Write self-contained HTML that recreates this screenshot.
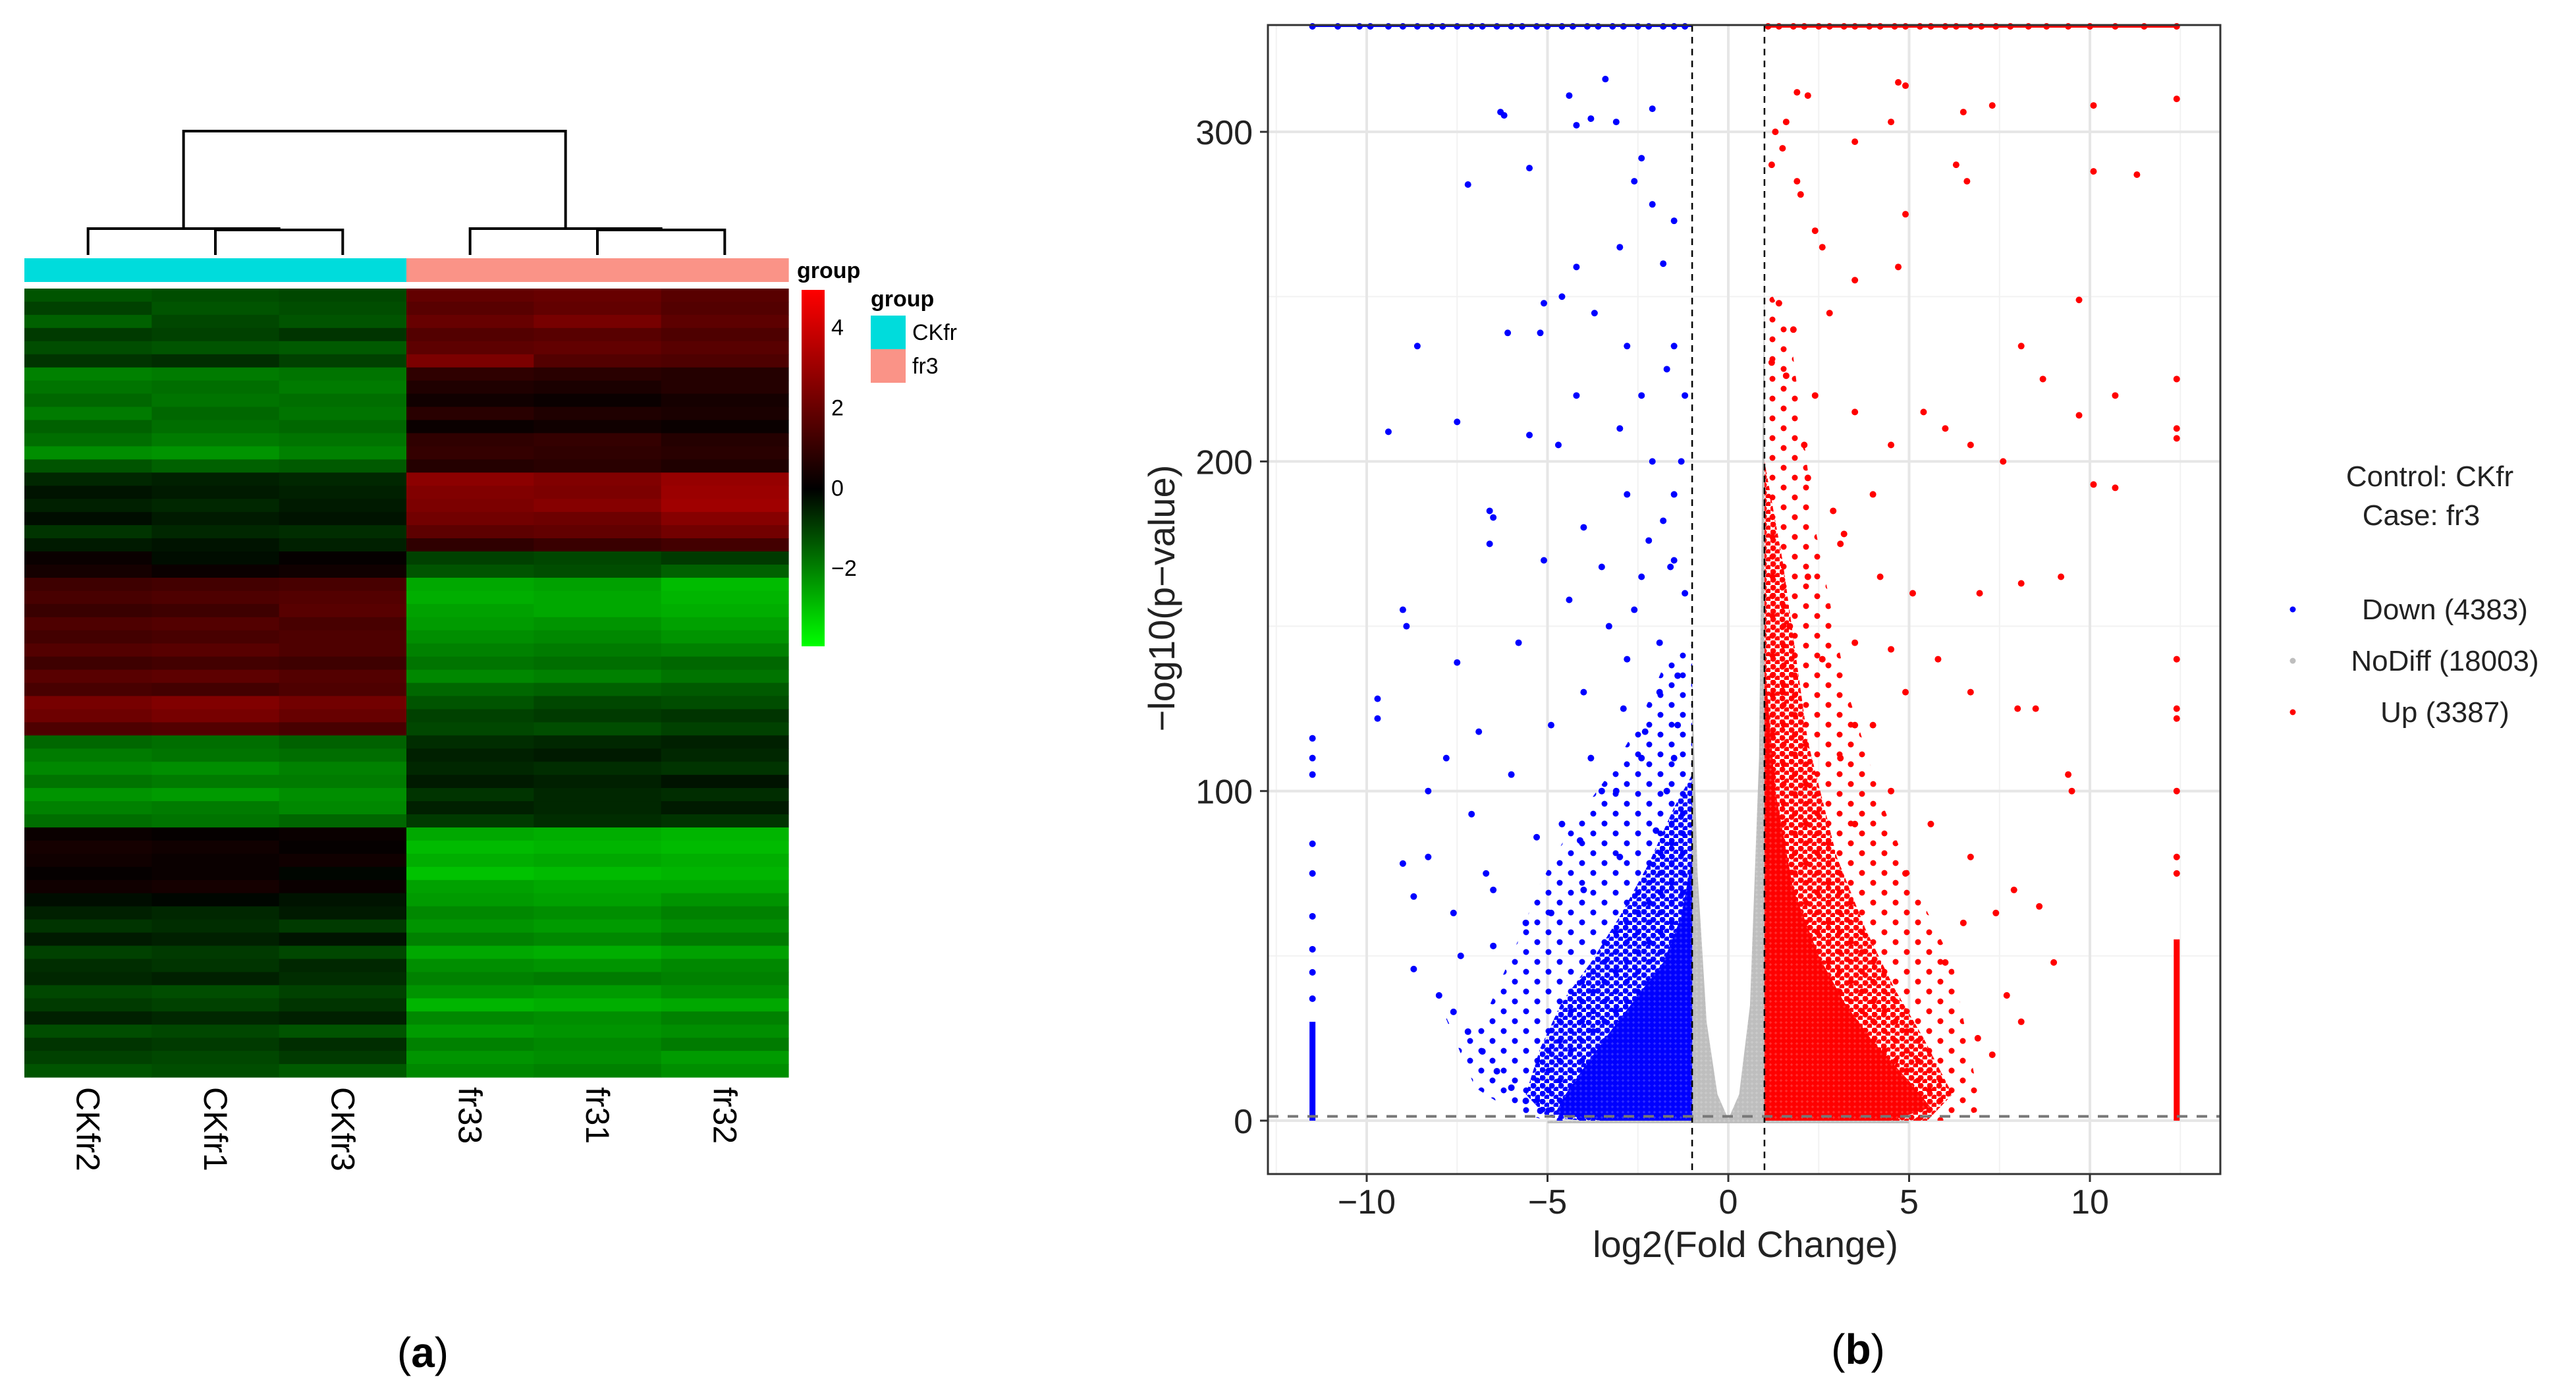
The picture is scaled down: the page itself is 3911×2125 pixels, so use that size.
<!DOCTYPE html>
<html><head><meta charset="utf-8"><style>
html,body{margin:0;padding:0;background:#fff;}
svg{display:block;}
text{font-family:"Liberation Sans",sans-serif;}
</style></head><body>
<svg id="fig" width="3911" height="2125" viewBox="0 0 3911 2125" xmlns="http://www.w3.org/2000/svg">
<defs>
<linearGradient id="cbar" x1="0" y1="0" x2="0" y2="1">
<stop offset="0" stop-color="#ff0000"/><stop offset="0.558" stop-color="#000000"/><stop offset="1" stop-color="#00ff00"/>
</linearGradient>
<pattern id="pBlueCore" width="8" height="8" patternUnits="userSpaceOnUse"><rect width="8" height="8" fill="#3030ff"/><circle cx="4" cy="4" r="4.2" fill="#0000ff"/></pattern>
<pattern id="pBlueMid" width="14" height="12" patternUnits="userSpaceOnUse"><circle cx="4" cy="4" r="4.5" fill="#0000ff"/><circle cx="11" cy="10" r="4.5" fill="#0000ff"/></pattern>
<pattern id="pBlueHalo" width="34" height="30" patternUnits="userSpaceOnUse"><circle cx="5" cy="5" r="4.5" fill="#0000ff"/><circle cx="22" cy="20" r="4.5" fill="#0000ff"/></pattern>
<pattern id="pRedCore" width="8" height="8" patternUnits="userSpaceOnUse"><rect width="8" height="8" fill="#ff3030"/><circle cx="4" cy="4" r="4.2" fill="#ff0000"/></pattern>
<pattern id="pRedMid" width="14" height="12" patternUnits="userSpaceOnUse"><circle cx="4" cy="4" r="4.5" fill="#ff0000"/><circle cx="11" cy="10" r="4.5" fill="#ff0000"/></pattern>
<pattern id="pRedHalo" width="34" height="30" patternUnits="userSpaceOnUse"><circle cx="5" cy="5" r="4.5" fill="#ff0000"/><circle cx="22" cy="20" r="4.5" fill="#ff0000"/></pattern>
<pattern id="pGray" width="7" height="7" patternUnits="userSpaceOnUse"><rect width="7" height="7" fill="#cacaca"/><circle cx="3.5" cy="3.5" r="3.5" fill="#bebebe"/></pattern>
</defs>
<g id="heat"></g>
<g id="volc"></g>
<text x="642" y="2075" font-family="Liberation Serif" font-size="64" text-anchor="middle">(<tspan font-weight="bold">a</tspan>)</text>
<text x="2821" y="2070" font-family="Liberation Serif" font-size="64" text-anchor="middle">(<tspan font-weight="bold">b</tspan>)</text>
</svg>
<script>
// ---------- heatmap data ----------
const samples = ["CKfr2","CKfr1","CKfr3","fr33","fr31","fr32"];
const groups = ["CKfr","CKfr","CKfr","fr3","fr3","fr3"];
const heatRows = [
[-1.3,-1.2,-1.1,1.9,2.0,1.7],[-1.0,-1.3,-1.2,1.7,1.9,1.6],[-1.5,-1.1,-1.3,2.0,2.3,1.8],[-0.9,-1.0,-0.8,1.6,1.7,1.5],
[-1.2,-1.3,-1.4,1.8,1.9,1.7],[-0.8,-0.7,-1.0,2.4,1.6,1.5],[-2.0,-1.9,-1.8,0.9,0.8,0.7],[-1.8,-1.7,-1.9,0.6,0.5,0.7],
[-1.6,-1.8,-1.7,0.3,0.2,0.4],[-1.9,-1.6,-1.8,0.8,0.6,0.5],[-1.5,-1.7,-1.6,0.2,0.3,0.2],[-1.7,-1.9,-1.8,0.9,1.0,0.7],
[-2.2,-2.3,-2.0,1.0,0.9,0.8],[-1.3,-1.5,-1.4,0.7,0.8,0.6],[-0.6,-0.5,-0.6,2.7,2.5,2.9],[-0.3,-0.4,-0.5,2.5,2.4,3.0],
[-0.5,-0.6,-0.4,2.4,2.6,3.1],[-0.2,-0.4,-0.3,2.2,2.1,2.6],[-0.8,-0.6,-0.7,1.8,1.9,2.2],[-0.4,-0.3,-0.5,0.9,1.1,1.3],
[0.2,-0.2,0.1,-1.0,-1.1,-0.9],[0.4,0.2,0.3,-1.3,-1.2,-1.5],[1.2,1.3,1.4,-2.6,-2.5,-2.9],[1.4,1.5,1.6,-2.7,-2.6,-2.8],
[1.1,1.2,1.7,-2.5,-2.6,-2.7],[1.5,1.6,1.4,-2.4,-2.3,-2.5],[1.3,1.4,1.5,-2.2,-2.1,-2.3],[1.6,1.7,1.5,-2.0,-1.9,-2.0],
[1.2,1.3,1.2,-1.8,-1.7,-1.6],[1.7,1.8,1.6,-2.1,-2.0,-1.8],[1.4,1.3,1.5,-1.6,-1.5,-1.4],[2.3,2.5,2.2,-1.3,-1.1,-1.2],
[2.1,2.3,2.0,-1.0,-0.9,-0.8],[1.5,1.6,1.4,-1.1,-1.2,-1.0],[-1.6,-1.7,-1.5,-0.7,-0.6,-0.5],[-1.9,-1.8,-1.7,-0.5,-0.4,-0.6],
[-2.1,-2.2,-2.0,-0.6,-0.7,-0.8],[-1.8,-1.9,-1.9,-0.4,-0.5,-0.3],[-2.3,-2.4,-2.2,-0.8,-0.6,-0.7],[-2.0,-1.9,-2.1,-0.5,-0.6,-0.4],
[-1.7,-1.8,-1.6,-0.9,-0.7,-0.8],[0.2,0.1,0.2,-2.6,-2.7,-2.8],[0.4,0.3,0.1,-2.9,-2.8,-2.9],[0.3,0.2,0.3,-2.7,-2.6,-2.7],
[0.1,0.2,-0.1,-3.0,-2.9,-2.8],[0.3,0.4,0.2,-2.5,-2.6,-2.6],[-0.2,-0.1,-0.3,-2.4,-2.5,-2.3],[-0.5,-0.6,-0.4,-2.1,-2.2,-2.0],
[-0.8,-0.7,-0.9,-2.3,-2.4,-2.2],[-0.4,-0.5,-0.3,-2.0,-2.1,-1.9],[-1.0,-0.9,-1.1,-2.6,-2.7,-2.5],[-0.7,-0.8,-0.6,-2.2,-2.3,-2.1],
[-0.6,-0.5,-0.7,-2.0,-1.9,-2.0],[-1.1,-1.2,-1.0,-2.3,-2.4,-2.2],[-0.9,-1.0,-0.8,-2.8,-2.7,-2.6],[-0.5,-0.6,-0.5,-2.1,-2.2,-2.0],
[-1.2,-1.1,-1.3,-2.4,-2.3,-2.2],[-0.8,-0.9,-0.7,-2.0,-2.1,-1.9],[-1.0,-1.1,-0.9,-2.3,-2.2,-2.4],[-1.3,-1.2,-1.4,-2.1,-2.0,-2.2]
];
const cbarTicks = [4,2,0,-2];
const groupNames = ["CKfr","fr3"];
const groupColors = {"CKfr":"#00dcdc","fr3":"#fa9387"};

// ---------- volcano data ----------
const xTicks = [-10,-5,0,5,10];
const yTicks = [0,100,200,300];
const xMinor = [-12.5,-7.5,-2.5,2.5,7.5,12.5];
const yMinor = [50,150,250];
const fcCut = [-1,1];
const pCut = 1.3;
const downX = [-6.3,-6.2,-3.4,-4.4,-5.5,-7.2,-8.6,-9.4,-6.1,-7.5,-9.7,-9.7,-9,-8.9,-7.5,-6.6,-6.5,-5.2,-5.1,-4.2,-3.8,-3.1,-2.1,-2.4,-2.6,-2.1,-1.5,-1.8,-3,-4.2,-4.6,-3.7,-2.8,-1.7,-1.2,-1.5,-2.4,-3,-4.2,-4.7,-5.5,-6.6,-2.1,-1.5,-2.8,-4,-3.5,-2.4,-1.5,-5.1,-4.4,-5.8,-6.9,-7.8,-8.3,-7.1,-6,-4.9,-4,-2.8,-1.9,-8.3,-9,-8.7,-7.6,-6.5,-5.3,-4.6,-3.5,-2.4,-1.4,-7.4,-6.5,-8.7,-6.7,-5.6,-4.9,-4,-3,-2,-1.7,-1.5,-8.0,-7.6,-7.2,-6.8,-6.4,-6.0,-5.6,-5.2,-1.3,-1.8,-2.2,-1.2,-3.3,-2.6,-1.9,-1.4,-2.9,-3.8,-2.3,-1.6,-3.1,-4.1];
const downY = [306,305,316,311,289,284,235,209,239,212,128,122,155,150,139,185,183,239,248,302,304,303,307,292,285,278,273,260,265,259,250,245,235,228,220,235,220,210,220,205,208,175,200,190,190,180,168,165,170,170,158,145,118,110,100,93,105,120,130,140,145,80,78,68,63,70,86,90,100,110,120,50,53,46,75,60,63,70,80,88,100,110,38,33,27,21,15,10,6,3,200,182,176,160,150,155,130,135,125,110,118,168,100,85];
const upX = [1.6,2.2,1.9,3.5,4.7,4.9,4.5,6.5,7.3,10.1,12.4,6.3,6.6,10.1,11.3,4.9,1.9,1.2,2.6,3.5,4.7,9.7,8.1,8.7,10.7,9.7,12.4,12.4,12.4,10.1,10.7,7.6,6.7,6,5.4,4.5,4,3.5,2.4,2.2,3.1,4.2,5.1,6.95,8.1,9.2,5.8,6.7,8,8.5,9.4,9.5,12.4,12.4,12.4,12.4,12.4,12.4,4.9,4,3.1,4.5,5.6,6.7,7.9,7.4,6.5,8.6,9,6,4.9,3.5,2.6,2.2,1.5,1.7,3.5,4.5,3.5,7.7,8.1,6.9,7.3,1.3,1.5,2.0,2.4,1.4,1.8,2.8,1.2,1.6,2.1,2.9,3.2];
const upY = [303,311,312,297,315,314,303,306,308,308,310,290,285,288,287,275,285,290,265,255,259,249,235,225,220,214,225,210,207,193,192,200,205,210,215,205,190,215,220,195,175,165,160,160,163,165,140,130,125,125,105,100,140,125,122,100,80,75,130,120,110,100,90,80,70,63,60,65,48,48,75,90,140,165,130,150,145,143,120,38,30,25,20,300,295,281,270,248,240,245,230,226,205,185,178];
// dense cloud outlines (log2FC, -log10 p)
const blueCoreX = [-1,-1,-1.3,-1.8,-2.5,-3.2,-4,-4.5,-4.8,-3.5];
const blueCoreY = [0,80,62,48,38,28,16,8,2,0];
const blueMidX = [-1,-1,-1.5,-2.2,-3,-3.8,-4.6,-5.2,-5.6,-5,-4];
const blueMidY = [0,105,95,78,62,48,36,22,8,1,0];
const blueHaloX = [-1,-1,-1.7,-2.5,-3.3,-4.3,-5.2,-5.8,-6.6,-7.4,-8.0,-7.0,-6.0,-5.0];
const blueHaloY = [0,145,140,120,105,90,72,55,35,22,36,10,3,0];
const redCoreX = [1,1,1.3,1.8,2.5,3.2,4,5,5.6,4.5];
const redCoreY = [0,140,100,70,50,36,24,12,4,0];
const redMidX = [1,1,1.5,2.2,3,3.8,4.6,5.4,6.2,5.5];
const redMidY = [0,200,170,115,80,58,40,25,8,0];
const redHaloX = [1,1,1.7,2.4,3.3,4.3,5.2,6.2,6.6,7,6];
const redHaloY = [0,255,240,180,130,95,70,48,25,3,0];
const grayX = [-1,-1,-0.85,-0.6,-0.3,0,0.3,0.6,0.85,1,1,5,5,-5,-5];
const grayY = [0,135,75,30,8,0.5,8,35,110,260,0,0,-0.8,-0.8,0];
const colDownX = -11.5, colDownTop = 30, colDownSparse = [37,45,52,62,75,84,105,110,116];
const colUpX = 12.4, colUpTop = 55;
const topDownX = [-11.5,-10.8,-10.2,-9.9,-9.4,-9.0,-8.6,-8.2,-7.9,-7.5,-7.1,-6.8,-6.4,-6.0,-5.7,-5.3,-5.0,-4.6,-4.3,-3.9,-3.6,-3.2,-2.9,-2.5,-2.2,-1.8,-1.5,-1.2];
const topUpX = [1.1,1.4,1.8,2.1,2.5,2.8,3.2,3.5,3.9,4.2,4.6,4.9,5.3,5.6,6.0,6.3,6.7,7.0,7.4,7.8,8.3,8.8,9.4,10.0,10.7,11.5,12.4];
const topY = 332;
const legendLabels = ["Down (4383)","NoDiff (18003)","Up (3387)"];
const legendColors = ["#0000ff","#bebebe","#ff0000"];

const NS = "http://www.w3.org/2000/svg";
function mk(tag, attrs, parent){ const e=document.createElementNS(NS,tag); for(const k in attrs) e.setAttribute(k,attrs[k]); parent.appendChild(e); return e; }

// ---------- heatmap ----------
const heat = document.getElementById('heat');
const hx0=37, hx1=1197, hy0=438, hy1=1635;
const colW=(hx1-hx0)/samples.length, rowH=(hy1-hy0)/heatRows.length;
const vMin=-3.95, vMax=4.93;
function heatColor(v){ if(v>=0){const r=Math.round(255*Math.min(1,v/vMax)); return `rgb(${r},0,0)`;} const g=Math.round(255*Math.min(1,v/vMin)); return `rgb(0,${g},0)`; }
const cellG = mk('g',{},heat);


heatRows.forEach((row,ri)=>{ row.forEach((v,ci)=>{
  const c=mk('rect',{x:hx0+ci*colW,y:hy0+ri*rowH,width:colW+0.6,height:rowH+0.6,fill:heatColor(v)},cellG);
  
  
});});
samples.forEach((s,i)=>{
  const r=mk('rect',{x:hx0+i*colW,y:392,width:colW+0.6,height:36,fill:groupColors[groups[i]]},heat);
  
  
  const cx=hx0+(i+0.5)*colW;
  const t=mk('text',{x:0,y:0,'font-size':50,transform:`translate(${cx-17},1650) rotate(90)`},heat);
  t.textContent=s;
  
  
});
const cc=i=>hx0+(i+0.5)*colW;
const dg=mk('g',{stroke:'#000','stroke-width':4,fill:'none'},heat);


function clusterPaths(a,b,c){
  const m=(cc(b)+cc(c))/2, top=(cc(a)+m)/2;
  mk('path',{d:`M${cc(b)},387V349H${cc(c)}V387`},dg);
  mk('path',{d:`M${cc(a)},387V347H${m}V349`},dg);
  return top;
}
const tL=clusterPaths(0,1,2), tR=clusterPaths(3,4,5);
mk('path',{d:`M${tL},347V199H${tR}V347`},dg);
const cb=mk('rect',{x:1217,y:440,width:35,height:541,fill:'url(#cbar)'},heat);


const cbY=v=>440+(vMax-v)/(vMax-vMin)*541;
cbarTicks.forEach(v=>{
  const t=mk('text',{x:1262,y:cbY(v)+12,'font-size':34},heat);
  t.textContent=v<0?'\u2212'+Math.abs(v):String(v);
  
  
});
let t=mk('text',{x:1210,y:422,'font-size':34,'font-weight':'bold'},heat);
t.textContent='group';


t=mk('text',{x:1322,y:465,'font-size':34,'font-weight':'bold'},heat);
t.textContent='group';


groupNames.forEach((g,i)=>{
  const r=mk('rect',{x:1322,y:479+i*51,width:53,height:51,fill:groupColors[g]},heat);
  
  
  const tt=mk('text',{x:1385,y:516+i*51,'font-size':34},heat);
  tt.textContent=g;
  
  
});

// ---------- volcano ----------
const vg=document.getElementById('volc');
const px0=1925, px1=3371, py0=38, py1=1782;
const X=v=>2624+v*54.9, Y=v=>1701-v*5.003;
const clipR=mk('clipPath',{id:'pclip'},vg); mk('rect',{x:px0,y:py0-6,width:px1-px0,height:py1-py0+6},clipR);
const plot=mk('g',{'clip-path':'url(#pclip)'},vg);
xMinor.forEach(v=>mk('line',{x1:X(v),x2:X(v),y1:py0,y2:py1,stroke:'#f2f2f2','stroke-width':2},plot));
yMinor.forEach(v=>mk('line',{x1:px0,x2:px1,y1:Y(v),y2:Y(v),stroke:'#f2f2f2','stroke-width':2},plot));
xTicks.forEach(v=>mk('line',{x1:X(v),x2:X(v),y1:py0,y2:py1,stroke:'#e6e6e6','stroke-width':4},plot));
yTicks.forEach(v=>mk('line',{x1:px0,x2:px1,y1:Y(v),y2:Y(v),stroke:'#e6e6e6','stroke-width':4},plot));
function poly(xs,ys,fill,name){
  const p=mk('polygon',{points:xs.map((x,i)=>X(x)+','+Y(ys[i])).join(' '),fill:fill},plot);
  
  
}
poly(grayX,grayY,'url(#pGray)','nodiff-cloud');
poly(blueHaloX,blueHaloY,'url(#pBlueHalo)','down-cloud-sparse');
poly(blueMidX,blueMidY,'url(#pBlueMid)','down-cloud-medium');
poly(blueCoreX,blueCoreY,'url(#pBlueCore)','down-cloud-dense');
poly(redHaloX,redHaloY,'url(#pRedHalo)','up-cloud-sparse');
poly(redMidX,redMidY,'url(#pRedMid)','up-cloud-medium');
poly(redCoreX,redCoreY,'url(#pRedCore)','up-cloud-dense');
function dot(x,y,col,name){ const c=mk('circle',{cx:X(x),cy:Y(y),r:5,fill:col},plot);
  
   }
downX.forEach((x,i)=>dot(x,downY[i],'#0000ff','down-point'));
upX.forEach((x,i)=>dot(x,upY[i],'#ff0000','up-point'));
let r=mk('rect',{x:X(colDownX)-4.5,y:Y(colDownTop),width:9,height:Y(0)-Y(colDownTop),fill:'#0000ff'},plot);


colDownSparse.forEach(y=>dot(colDownX,y,'#0000ff','down-point'));
r=mk('rect',{x:X(colUpX)-4.5,y:Y(colUpTop),width:9,height:Y(0)-Y(colUpTop),fill:'#ff0000'},plot);


topDownX.forEach(x=>dot(x,topY,'#0000ff','down-point-top'));
topUpX.forEach(x=>dot(x,topY,'#ff0000','up-point-top'));
mk('line',{x1:X(1),x2:X(12.4),y1:Y(topY),y2:Y(topY),stroke:'#ff0000','stroke-width':4},plot);
mk('line',{x1:X(-11.5),x2:X(-1),y1:Y(topY),y2:Y(topY),stroke:'#0000ff','stroke-width':2},plot);
fcCut.forEach(v=>{const l=mk('line',{x1:X(v),x2:X(v),y1:py0,y2:py1,stroke:'#000','stroke-width':2.5,'stroke-dasharray':'10,8'},plot);
  
  });
let l=mk('line',{x1:px0,x2:px1,y1:Y(pCut),y2:Y(pCut),stroke:'#777','stroke-width':4,'stroke-dasharray':'16,14'},plot);


r=mk('rect',{x:px0,y:py0,width:px1-px0,height:py1-py0,fill:'none',stroke:'#333','stroke-width':3},vg);


xTicks.forEach(v=>{
  mk('line',{x1:X(v),x2:X(v),y1:py1,y2:py1+12,stroke:'#333','stroke-width':3},vg);
  const tt=mk('text',{x:X(v),y:1842,'font-size':52,'text-anchor':'middle',fill:'#222'},vg);
  tt.textContent=v<0?'\u2212'+Math.abs(v):String(v);
  
  
});
yTicks.forEach(v=>{
  mk('line',{x1:px0-12,x2:px0,y1:Y(v),y2:Y(v),stroke:'#333','stroke-width':3},vg);
  const tt=mk('text',{x:1902,y:Y(v)+19,'font-size':52,'text-anchor':'end',fill:'#222'},vg);
  tt.textContent=String(v);
  
  
});
t=mk('text',{x:2650,y:1908,'font-size':56,'text-anchor':'middle',fill:'#222'},vg);
t.textContent='log2(Fold Change)';


t=mk('text',{x:0,y:0,'font-size':56,'text-anchor':'middle',fill:'#222',transform:'translate(1783,908) rotate(-90)'},vg);
t.textContent='\u2212log10(p\u2212value)';


t=mk('text',{x:3689,y:738,'font-size':44,'text-anchor':'middle',fill:'#222'},vg);
t.textContent='Control: CKfr';


t=mk('text',{x:3676,y:797,'font-size':44,'text-anchor':'middle',fill:'#222','xml:space':'preserve'},vg);
t.textContent='Case:   fr3';


legendLabels.forEach((lab,i)=>{
  const yy=925+i*78;
  const c=mk('circle',{cx:3481,cy:yy,r:4.5,fill:legendColors[i]},vg);
  
  
  const tt=mk('text',{x:3712,y:yy+15,'font-size':44,'text-anchor':'middle',fill:'#222'},vg);
  tt.textContent=lab;
  
  
});
</script>
</body></html>
